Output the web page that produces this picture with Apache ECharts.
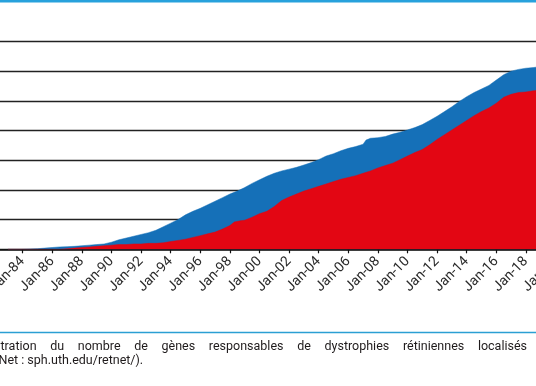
<!DOCTYPE html>
<html>
<head>
<meta charset="utf-8">
<script src="https://cdn.jsdelivr.net/npm/echarts@6/dist/echarts.min.js"></script>
<style>
html,body{margin:0;padding:0;background:#fff;}
#chart{width:536px;height:386px;}
</style>
</head>
<body>
<div id="chart"></div>
<script>
// Gènes localisés (total, bleu) — année décimale / nombre
const mappedYears = [1983,1984,1984.5,1985,1985.5,1986,1986.5,1987,1987.5,1988,1988.5,1989,1989.5,1990,1990.5,1991,1991.5,1992,1992.5,1993,1993.5,1994,1994.5,1995,1995.5,1996,1996.5,1997,1997.5,1998,1998.5,1999,1999.5,2000,2000.5,2001,2001.5,2002,2002.5,2003,2003.5,2004,2004.5,2005,2005.5,2006,2006.5,2007,2007.2,2007.5,2008,2008.5,2009,2009.5,2010,2010.5,2011,2011.5,2012,2012.5,2013,2013.5,2014,2014.5,2015,2015.5,2016,2016.5,2017,2017.5,2018,2018.5,2019];
const mappedVals  = [0,0,0.5,1,2,3,4,4.5,5,6,7,8,9,12,16,19,22,25,28,32,38,44,50,58,64,69,75,81,87,93,98,104,111,117,123,128,132,135,138,142,146,151,157,161,166,170,173,177,184,187,188,190,194,197,201,205,210,217,224,232,240,249,257,264,270,276,285,294,300,303,305,306,308];
// Gènes identifiés (rouge)
const identYears = [1983,1986.5,1987,1987.5,1988,1988.5,1989,1989.5,1990,1990.5,1991,1991.5,1992,1992.5,1993,1993.5,1994,1994.5,1995,1995.5,1996,1996.5,1997,1997.5,1998,1998.3,1998.7,1999,1999.5,2000,2000.5,2001,2001.5,2002,2002.5,2003,2003.5,2004,2004.5,2005,2005.5,2006,2006.5,2007,2007.5,2008,2008.5,2009,2009.5,2010,2010.5,2011,2011.5,2012,2012.5,2013,2013.5,2014,2014.5,2015,2015.5,2016,2016.5,2017,2017.5,2018,2018.5,2019];
const identVals  = [0,0,1,2,3,4,5,6,7,8,8,9,9,10,10,11,13,15,17,20,23,26,29,34,40,46,48,49,54,60,64,72,82,88,93,98,102,106,110,114,118,121,124,128,132,137,141,145,151,157,163,168,176,185,193,201,209,217,225,232,238,246,256,261,264,265,267,268];
// Axes
const xMin = 1982, xMax = 2020, xStep = 2;
const yMin = 0, yMax = 350, yStep = 50;
const captionLine1 = "Illustration du nombre de gènes responsables de dystrophies rétiniennes localisés";
const captionLine2 = "RetNet : sph.uth.edu/retnet/).";

const chart = echarts.init(document.getElementById('chart'), null, {renderer:'canvas'});

const capFont = '12.5px Roboto';
const mc = document.createElement('canvas').getContext('2d');
mc.font = capFont;
const mw = s => mc.measureText(s).width;

// justified first caption line
const words = captionLine1.split(' ');
const startX = -mw('Illus') + 0.5;
const endX = 527;
const totalW = words.reduce((a,w)=>a+mw(w),0);
const gap = (endX - startX - totalW) / (words.length - 1);
const capGraphics = [];
let cx = startX;
words.forEach(w => {
  capGraphics.push({type:'text', left: cx, top: 340, silent:true,
    style:{text:w, font:capFont, fill:'#1f1b1c'}});
  cx += mw(w) + gap;
});
capGraphics.push({type:'text', left: -mw('Ret') - 1.5, top: 354, silent:true,
  style:{text:captionLine2, font:capFont, fill:'#1f1b1c'}});

const option = {
  animation:false,
  backgroundColor:'#fff',
  grid:{left:-6.9, right:-19.5, top:41.5, bottom:136.7, containLabel:false, outerBoundsMode:'none'},
  xAxis:{
    type:'value', min:xMin, max:xMax, interval:xStep,
    axisLine:{show:true, onZero:false, lineStyle:{color:'#111', width:1.5}},
    axisTick:{show:true, inside:false, length:4, lineStyle:{color:'#111', width:1.2}},
    splitLine:{show:false},
    axisLabel:{rotate:45, margin:10, color:'#2a2a2a', fontFamily:'Roboto', fontSize:14,
      formatter: v => 'Jan-' + String(Math.round(v) % 100).padStart(2,'0')}
  },
  yAxis:{
    type:'value', min:yMin, max:yMax, interval:yStep,
    axisLine:{show:false}, axisTick:{show:false}, axisLabel:{show:false},
    splitLine:{show:true, lineStyle:{color:'#222', width:1.3}}
  },
  series:[
    {type:'line', data: mappedYears.map((x,i)=>[x, mappedVals[i]]), showSymbol:false,
      lineStyle:{width:0.5, color:'#1570b8'}, areaStyle:{color:'#1570b8', opacity:1}, z:2},
    {type:'line', data: identYears.map((x,i)=>[x, identVals[i]]), showSymbol:false,
      lineStyle:{width:0.5, color:'#e30613'}, areaStyle:{color:'#e30613', opacity:1}, z:3}
  ],
  graphic:[
    {type:'rect', shape:{x:0, y:0, width:536, height:2.6}, style:{fill:'#27a1dc'}, silent:true},
    {type:'rect', shape:{x:0, y:331.8, width:536, height:1.5}, style:{fill:'#2b9fd3'}, silent:true}
  ].concat(capGraphics)
};
chart.setOption(option);
</script>
</body>
</html>
